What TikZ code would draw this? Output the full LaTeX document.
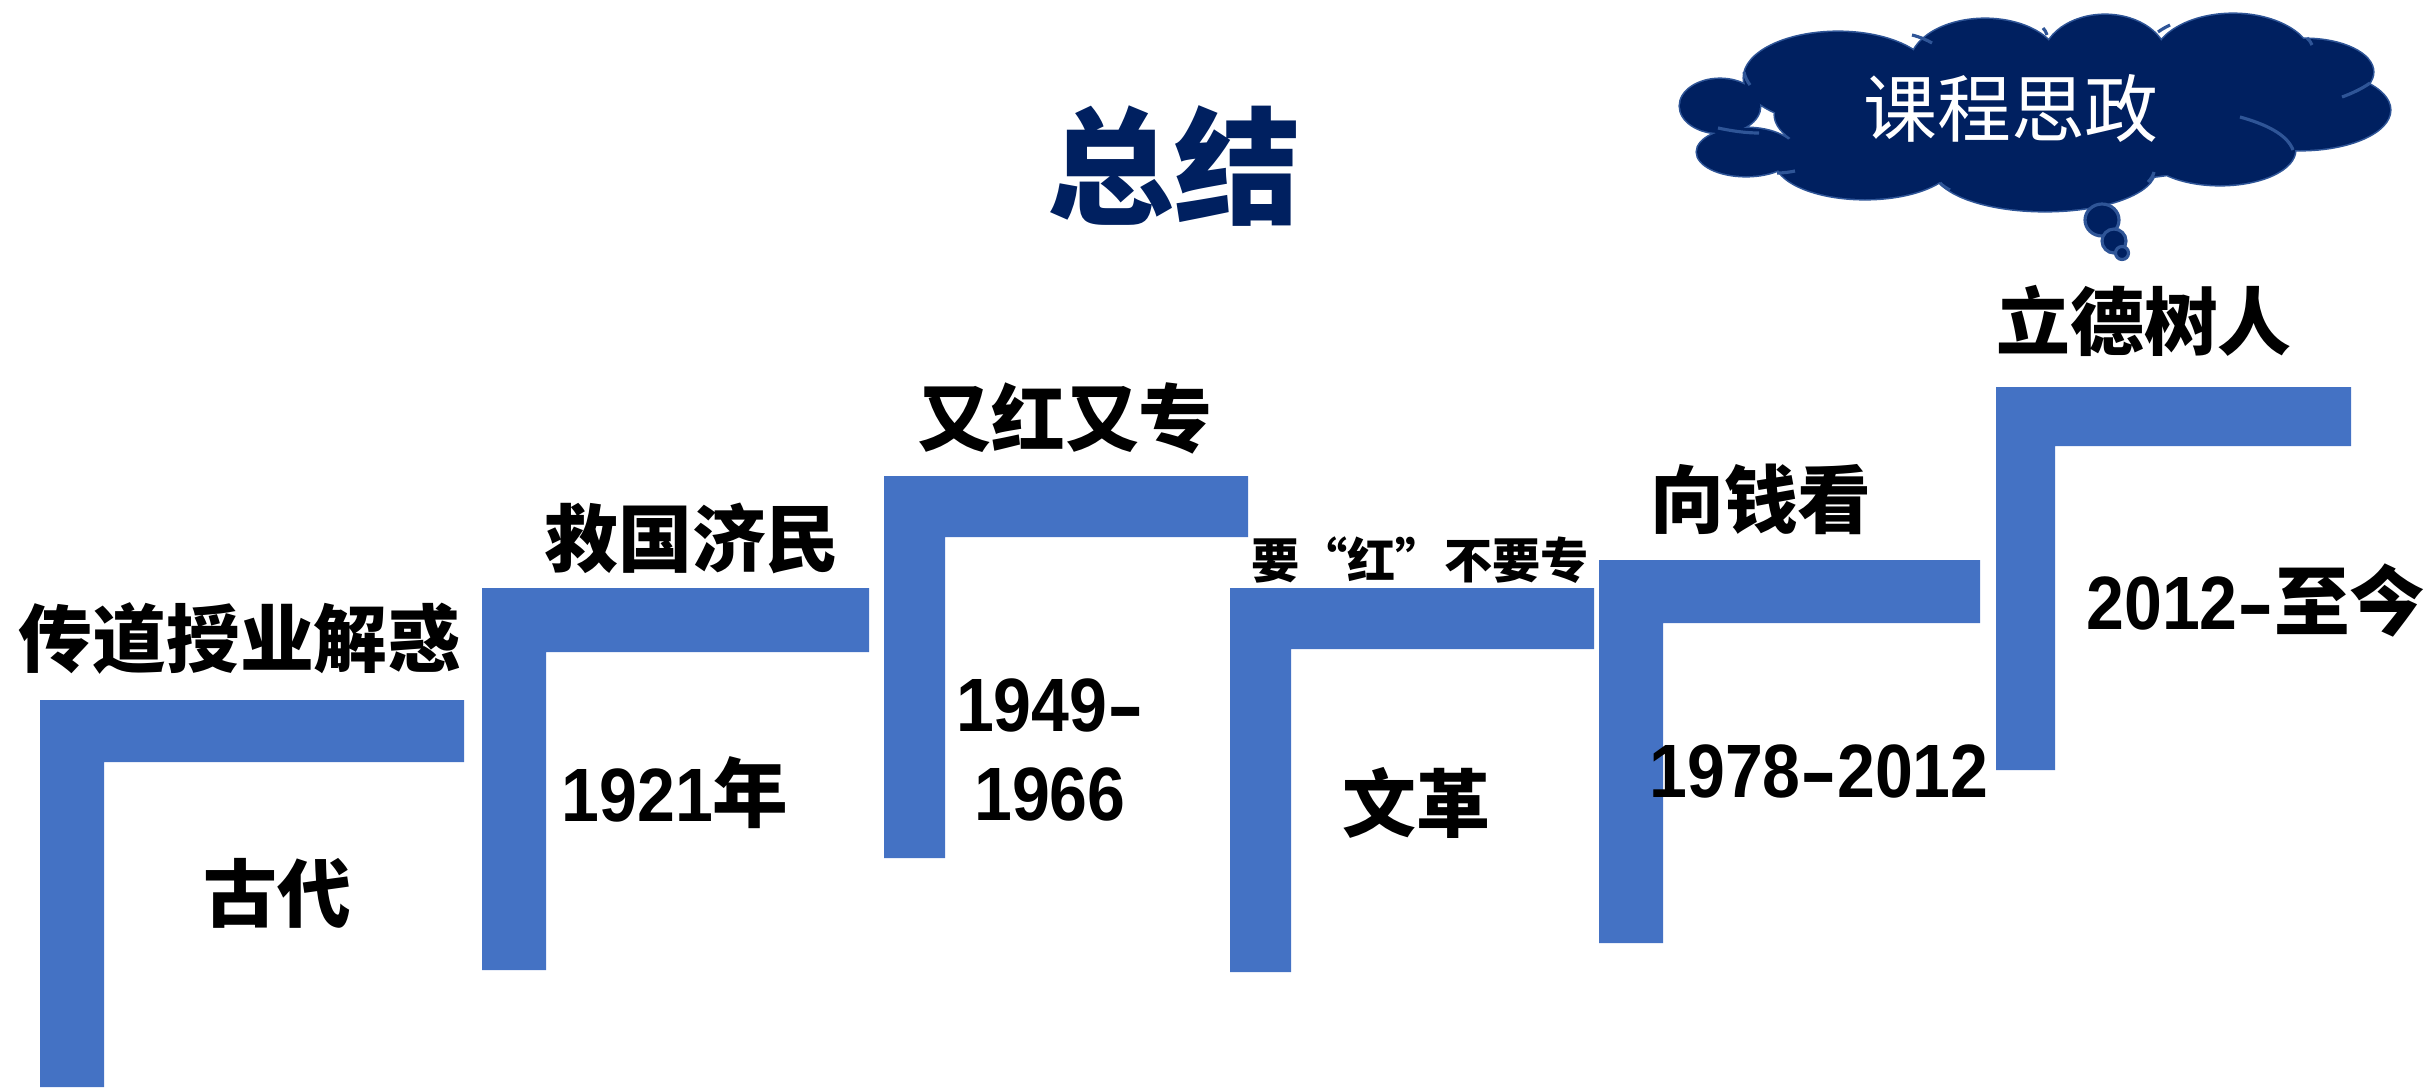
\documentclass[tikz,border=0pt]{standalone}
\usepackage{fontspec}
\setmainfont{Noto Sans CJK SC}
\newfontfamily\digitfont{Liberation Sans}
\definecolor{stepblue}{HTML}{4472C4}
\definecolor{navy}{HTML}{002060}
\definecolor{cloudline}{HTML}{2F5597}
\newcommand{\dg}[1]{{\digitfont\bfseries\scalebox{0.9}[1]{#1}}}
\newcommand{\dash}{{\digitfont\bfseries\scalebox{1.45}[1]{-}}}
\begin{document}
\begin{tikzpicture}[x=0.01cm,y=-0.01cm,
  lbl/.style={font=\bfseries\fontsize{21}{25}\selectfont,text=black,inner sep=0pt,align=center},
  numlbl/.style={font=\bfseries\fontsize{21.5}{25.3}\selectfont,text=black,inner sep=0pt,align=center},
  smalllbl/.style={font=\bfseries\fontsize{13.7}{16}\selectfont,text=black,inner sep=0pt},
  ttl/.style={font=\bfseries\fontsize{36}{40}\selectfont,text=navy,inner sep=0pt},
  puffline/.style={draw=cloudline,line width=0.9pt},
  bubble/.style={fill=navy,draw=cloudline,line width=0.9pt}]
\path[use as bounding box] (0,0) rectangle (2430,1087);
% steps
\newcommand{\stepshape}[6]{\fill[stepblue] (#1,#2) -- (#3,#2) -- (#3,#4) -- (#5,#4) -- (#5,#6) -- (#1,#6) -- cycle;}
\stepshape{40}{700}{464}{762}{104}{1087}
\stepshape{482}{588}{869}{652}{546}{970}
\stepshape{884}{476}{1248}{537}{945}{858}
\stepshape{1230}{588}{1594}{649}{1291}{972}
\stepshape{1599}{560}{1980}{623}{1663}{943}
\stepshape{1996}{387}{2351}{446}{2055}{770}
% labels
\node[lbl] (t1) at (240,638) {传道授业解惑};
\node[lbl] (d1) at (277,893) {古代};
\node[lbl] (t2) at (692,538) {救国济民};
\node[numlbl] (d2) at (675,793) {\dg{1921}年};
\node[lbl] (t3) at (1065,418) {又红又专};
\node[numlbl] (d3) at (1050,750) {\dg{1949}\dash\\\dg{1966}};
\node[smalllbl] (t4) at (1420,560) {要“红”不要专};
\node[lbl] (d4) at (1416,803) {文革};
\node[lbl] (t5) at (1761,499) {向钱看};
\node[numlbl] (d5) at (1819,771) {\dg{1978}\dash\dg{2012}};
\node[lbl] (t6) at (2144,321) {立德树人};
\node[numlbl] (d6) at (2256,600) {\dg{2012}\dash 至今};
\node[ttl] (title) at (1174,166) {总结};
% cloud
\def\cloudpuffs{
  (1720,106) ellipse [x radius=40, y radius=27]
  (1746,152) ellipse [x radius=49, y radius=24]
  (1838,78) ellipse [x radius=94, y radius=46]
  (1985,65) ellipse [x radius=75, y radius=46]
  (2105,60) ellipse [x radius=62, y radius=45]
  (2233,62) ellipse [x radius=80, y radius=48]
  (2305,72) ellipse [x radius=68, y radius=33]
  (2300,110) ellipse [x radius=90, y radius=40]
  (2220,150) ellipse [x radius=75, y radius=35]
  (2045,170) ellipse [x radius=110, y radius=41]
  (1865,160) ellipse [x radius=90, y radius=39]
  (2040,115) ellipse [x radius=265, y radius=68]
}
\draw[puffline] \cloudpuffs;
\fill[navy] \cloudpuffs;
% inner arcs of the cloud
\draw[puffline] (1744,72) .. controls (1745,77) and (1747,81) .. (1750,85);
\draw[puffline] (1718,128) .. controls (1732,131) and (1746,133) .. (1759,133);
\draw[puffline] (1777,173) .. controls (1784,173) and (1790,172) .. (1795,171);
\draw[puffline] (1912,35) .. controls (1920,37) and (1927,40) .. (1932,43);
\draw[puffline] (1940,183) .. controls (1943,186) and (1946,188) .. (1950,190);
\draw[puffline] (2043,28) .. controls (2045,30) and (2046,32) .. (2047,35);
\draw[puffline] (2158,32) .. controls (2162,29) and (2166,27) .. (2170,25);
\draw[puffline] (2307,38) .. controls (2309,40) and (2311,42) .. (2312,45);
\draw[puffline] (2342,97) .. controls (2353,93) and (2363,88) .. (2370,83);
\draw[puffline] (2240,117) .. controls (2265,124) and (2287,134) .. (2293,150);
\draw[puffline] (2148,182) .. controls (2151,179) and (2153,176) .. (2154,172);
% thought bubbles
\filldraw[bubble] (2102,220) ellipse [x radius=17, y radius=16];
\filldraw[bubble] (2114,241) ellipse [x radius=12, y radius=12];
\filldraw[bubble] (2122,253) ellipse [x radius=6.5, y radius=6.5];
\node[inner sep=0pt,text=white,font=\fontsize{21}{25}\selectfont] (cloudtext) at (2011,109) {课程思政};
\end{tikzpicture}
\end{document}
